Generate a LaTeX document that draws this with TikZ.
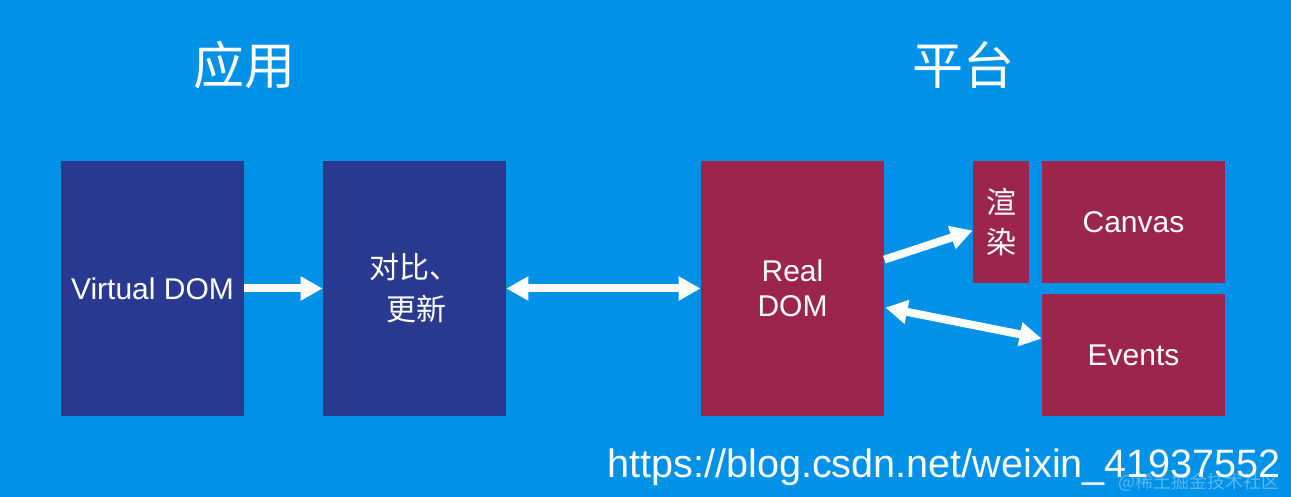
\documentclass[tikz,border=0pt]{standalone}
\usepackage{fontspec}
\setmainfont{Liberation Sans}
\newfontfamily\cjk{Noto Sans CJK SC}
\usetikzlibrary{arrows.meta,calc}
\definecolor{bgblue}{RGB}{0,145,233}
\definecolor{navy}{RGB}{41,57,143}
\definecolor{maroon}{RGB}{156,37,77}
\tikzset{
  navybox/.style={fill=navy,draw=none,inner sep=0pt,text=white,font=\fontsize{15}{18}\selectfont},
  maroonbox/.style={fill=maroon,draw=none,inner sep=0pt,text=white,font=\fontsize{15}{18}\selectfont},
  bigbox/.style={minimum width=91.5pt,minimum height=127.5pt},
  halfbox/.style={minimum width=91.5pt,minimum height=61pt},
  conn/.style={white,line width=4pt,-{Triangle[length=11pt,width=11.5pt]}},
  dconn/.style={white,line width=4pt,{Triangle[length=11pt,width=11.5pt]}-{Triangle[length=11pt,width=11.5pt]}},
  title/.style={text=white,font=\cjk\fontsize{25.5}{30}\selectfont}
}
\begin{document}
\begin{tikzpicture}[x=0.5pt,y=-0.5pt]
\fill[bgblue] (0,0) rectangle (1291,497);
\useasboundingbox (0,0) rectangle (1291,497);
\node[title] (tapp) at (244,65) {应用};
\node[title] (tplat) at (963,65) {平台};
\node[navybox,bigbox] (vdom) at (152.5,288.5) {Virtual DOM};
\node[navybox,bigbox,align=left,font=\cjk\fontsize{15}{21}\selectfont] (diff) at (414.5,288.5) {对比、\\\hspace*{0.57em}更新};
\node[maroonbox,bigbox,align=center,font=\fontsize{15}{17.5}\selectfont] (real) at (792.5,288.5) {Real\\DOM};
\node[maroonbox,minimum width=28pt,minimum height=61pt,align=center,font=\cjk\fontsize{15}{20}\selectfont] (render) at (1001,222) {渲\\染};
\node[maroonbox,halfbox] (canvas) at (1133.5,222) {Canvas};
\node[maroonbox,halfbox] (events) at (1133.5,355) {Events};
\draw[conn] (vdom.east) -- (diff.west);
\draw[dconn] (diff.east) -- (real.west);
\draw[conn] ($(real.north east)+(0,99)$) -- ($(render.north west)+(0,70)$);
\draw[dconn] ($(real.north east)+(1,147)$) -- ($(events.north west)+(0,45)$);
\node[anchor=base west,inner sep=0pt,text=white,font=\fontsize{19.8}{22}\selectfont] (url) at (607,477) {https://blog.csdn.net/weixin\_41937552};
\node[anchor=base east,inner sep=0pt,text=white,opacity=0.35,font=\cjk\fontsize{9}{11}\selectfont] (wm) at (1280,488) {@稀土掘金技术社区};
\end{tikzpicture}
\end{document}
